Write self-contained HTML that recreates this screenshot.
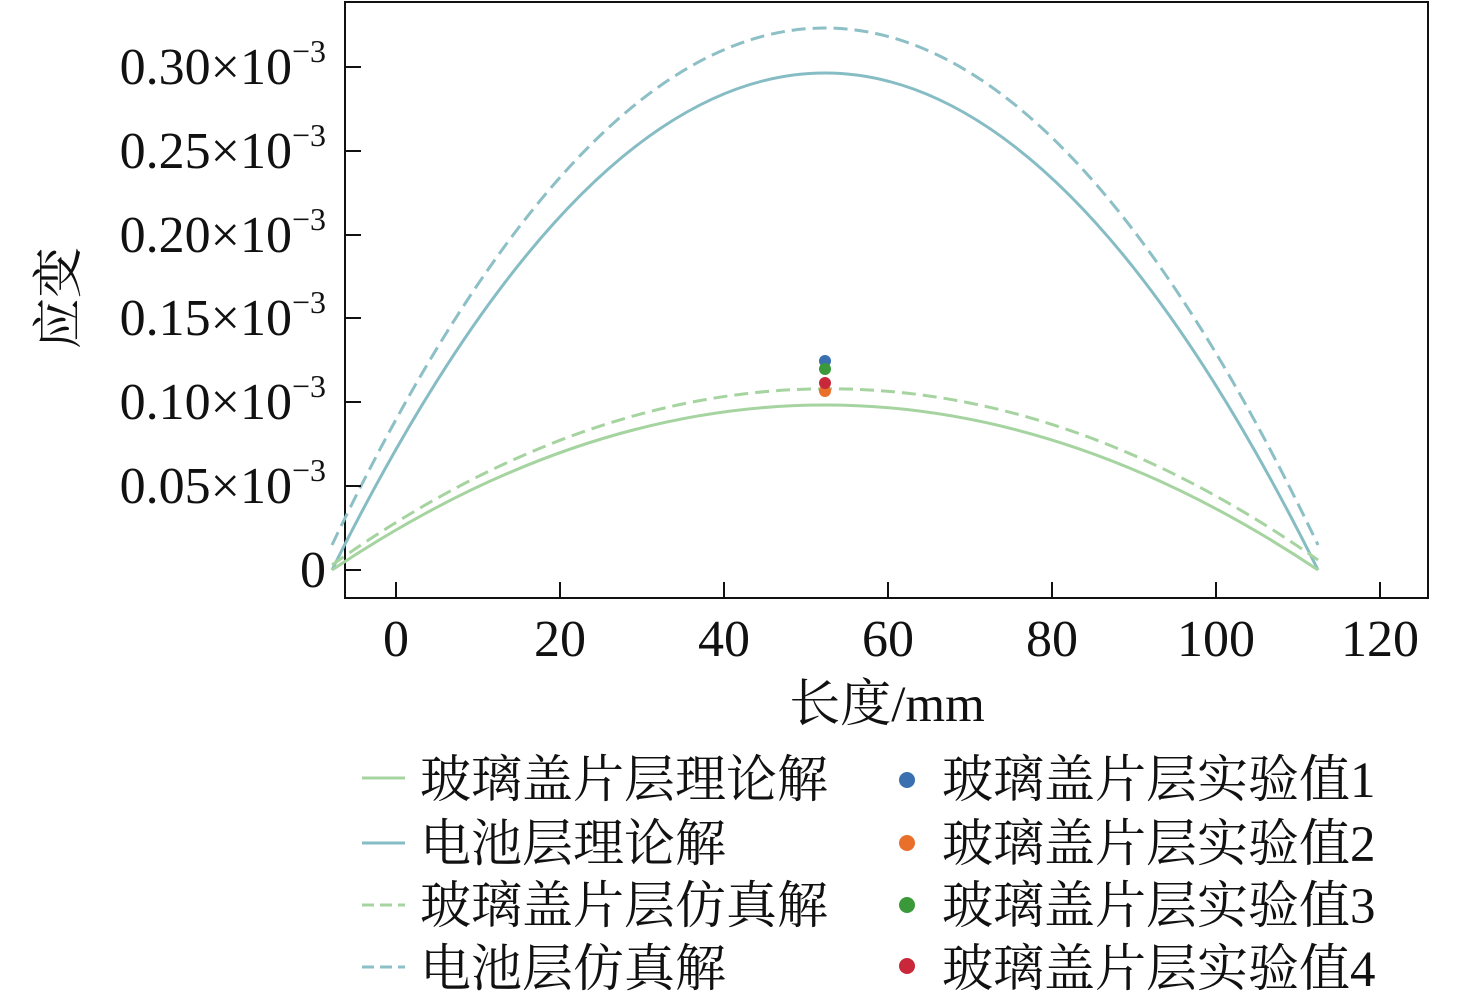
<!DOCTYPE html>
<html><head><meta charset="utf-8"><style>
html,body{margin:0;padding:0;background:#fff;}
text{font-family:"Liberation Serif","Noto Serif CJK SC",serif;fill:#111;}
</style></head><body>
<svg width="1476" height="1000" viewBox="0 0 1476 1000" xmlns="http://www.w3.org/2000/svg">
<rect x="345" y="2" width="1083" height="596" fill="none" stroke="#111" stroke-width="2"/>
<g fill="none" stroke-width="3">
<path d="M332,545 Q825,-489 1318,545" stroke="#8cbfc6" stroke-dasharray="14,7"/>
<path d="M332,570 Q825,-424 1318,570" stroke="#86bcc4"/>
<path d="M332,565 Q825,215 1318,560" stroke="#a6d4a0" stroke-dasharray="14,7"/>
<path d="M332,570 Q825,240 1318,570" stroke="#a6d4a0"/>
<circle cx="825" cy="391" r="6" fill="#e8702a" stroke="none"/>
<circle cx="825" cy="361" r="6" fill="#3a6fb0" stroke="none"/>
<circle cx="825" cy="369" r="6" fill="#3a9a3a" stroke="none"/>
<circle cx="825" cy="383" r="6" fill="#c8283a" stroke="none"/>
</g>
<g stroke="#111" stroke-width="2">
<line x1="396" y1="598" x2="396" y2="582"/><line x1="560" y1="598" x2="560" y2="582"/>
<line x1="724" y1="598" x2="724" y2="582"/><line x1="888" y1="598" x2="888" y2="582"/>
<line x1="1052" y1="598" x2="1052" y2="582"/><line x1="1216" y1="598" x2="1216" y2="582"/>
<line x1="1380" y1="598" x2="1380" y2="582"/>
<line x1="345" y1="570" x2="361" y2="570"/><line x1="345" y1="486" x2="361" y2="486"/>
<line x1="345" y1="402" x2="361" y2="402"/><line x1="345" y1="318" x2="361" y2="318"/>
<line x1="345" y1="235" x2="361" y2="235"/><line x1="345" y1="151" x2="361" y2="151"/>
<line x1="345" y1="67" x2="361" y2="67"/>
</g>
<g font-size="52" text-anchor="middle">
<text x="396" y="656">0</text><text x="560" y="656">20</text><text x="724" y="656">40</text>
<text x="888" y="656">60</text><text x="1052" y="656">80</text><text x="1216" y="656">100</text><text x="1380" y="656">120</text>
</g>
<g font-size="52" text-anchor="end">
<text x="326" y="587">0</text>
<text x="326" y="503">0.05×10<tspan font-size="32" dy="-22">−3</tspan></text>
<text x="326" y="419">0.10×10<tspan font-size="32" dy="-22">−3</tspan></text>
<text x="326" y="335">0.15×10<tspan font-size="32" dy="-22">−3</tspan></text>
<text x="326" y="252">0.20×10<tspan font-size="32" dy="-22">−3</tspan></text>
<text x="326" y="168">0.25×10<tspan font-size="32" dy="-22">−3</tspan></text>
<text x="326" y="84">0.30×10<tspan font-size="32" dy="-22">−3</tspan></text>
</g>
<text x="887" y="721" font-size="51" text-anchor="middle">长度/mm</text>
<text transform="translate(76,298) rotate(-90)" font-size="51" text-anchor="middle">应变</text>
<g stroke-width="3">
<line x1="362" y1="778" x2="405" y2="778" stroke="#a6d4a0"/>
<line x1="362" y1="843" x2="405" y2="843" stroke="#86bcc4"/>
<line x1="362" y1="905" x2="405" y2="905" stroke="#a6d4a0" stroke-dasharray="12,6"/>
<line x1="362" y1="967" x2="405" y2="967" stroke="#8cbfc6" stroke-dasharray="12,6"/>
</g>
<circle cx="907" cy="780" r="8" fill="#3a6fb0"/>
<circle cx="907" cy="843" r="8" fill="#e8702a"/>
<circle cx="907" cy="905" r="8" fill="#3a9a3a"/>
<circle cx="907" cy="966" r="8" fill="#c8283a"/>
<g font-size="51">
<text x="420" y="797">玻璃盖片层理论解</text>
<text x="420" y="861">电池层理论解</text>
<text x="420" y="923">玻璃盖片层仿真解</text>
<text x="420" y="986">电池层仿真解</text>
<text x="942" y="797">玻璃盖片层实验值1</text>
<text x="942" y="861">玻璃盖片层实验值2</text>
<text x="942" y="923">玻璃盖片层实验值3</text>
<text x="942" y="986">玻璃盖片层实验值4</text>
</g>
</svg>
</body></html>
